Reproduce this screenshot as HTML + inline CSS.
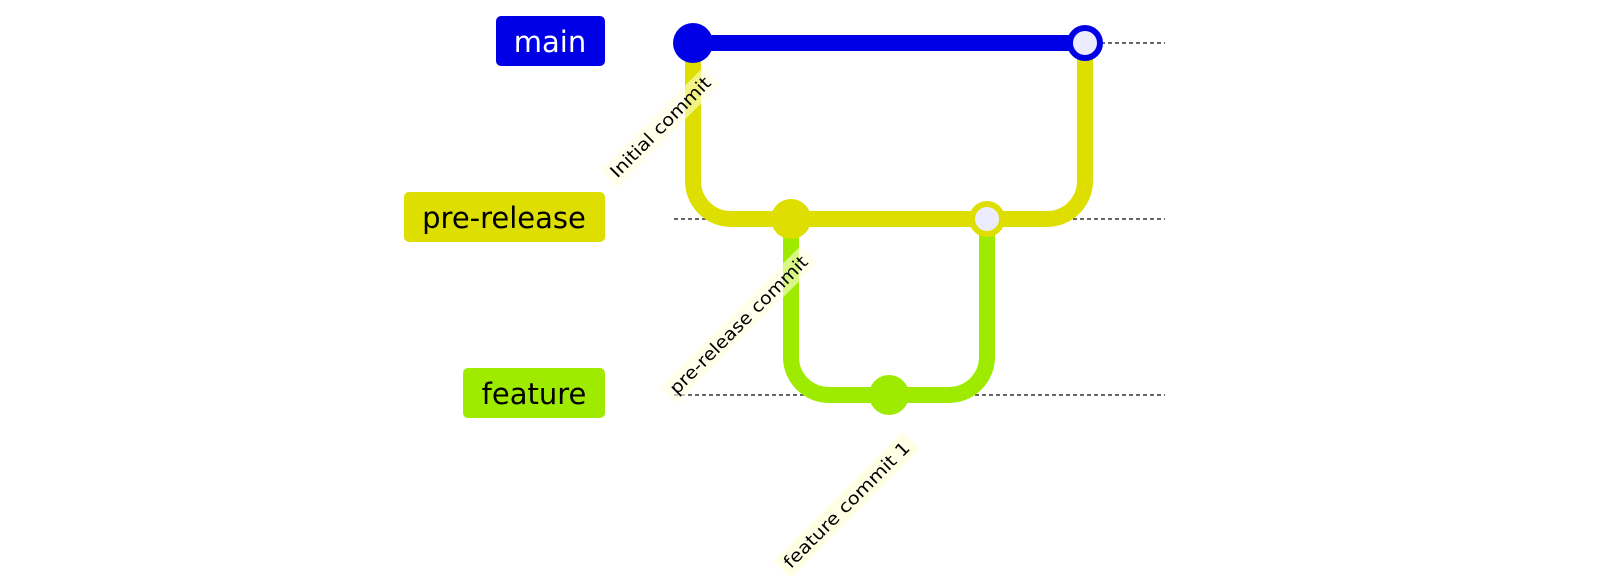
<!DOCTYPE html>
<html><head><meta charset="utf-8"><style>
html,body{margin:0;padding:0;background:#fff;width:1600px;height:584px;overflow:hidden}
svg{display:block;font-family:"DejaVu Sans","Liberation Sans",sans-serif}
</style></head><body>
<svg width="1600" height="584" viewBox="0 0 1600 584">
<g stroke="#333" stroke-width="1.5" stroke-dasharray="4,3">
<line x1="674" y1="43" x2="1165" y2="43"/>
<line x1="674" y1="219" x2="1165" y2="219"/>
<line x1="674" y1="395" x2="1165" y2="395"/>
</g>
<rect x="496" y="16" width="109" height="50" rx="5" fill="#0000e6"/>
<text x="550" y="52" font-size="29" fill="#fff" text-anchor="middle">main</text>
<rect x="404" y="192" width="201" height="50" rx="5" fill="#dede00"/>
<text x="504" y="228" font-size="29" fill="#000" text-anchor="middle">pre-release</text>
<rect x="463" y="368" width="142" height="50" rx="5" fill="#9eeb00"/>
<text x="534" y="404" font-size="29" fill="#000" text-anchor="middle">feature</text>

<path d="M693 43 V181 A38 38 0 0 0 731 219 H1047 A38 38 0 0 0 1085 181 V43" fill="none" stroke="#dede00" stroke-width="16"/>
<path d="M791 219 V357 A38 38 0 0 0 829 395 H949 A38 38 0 0 0 987 357 V219" fill="none" stroke="#9eeb00" stroke-width="16"/>
<line x1="693" y1="43" x2="1085" y2="43" stroke="#0000e6" stroke-width="16"/>

<circle cx="693" cy="43" r="20" fill="#0000e6"/>
<circle cx="1085" cy="43" r="15" fill="#ececfe" stroke="#0000e6" stroke-width="6"/>
<circle cx="791" cy="219" r="20" fill="#dede00"/>
<circle cx="987" cy="219" r="15" fill="#ececfe" stroke="#dede00" stroke-width="6"/>
<circle cx="889" cy="395" r="20" fill="#9eeb00"/>

<g font-size="17.5" fill="#000">
<g transform="translate(712,84) rotate(-45)">
<rect x="-140" y="-18" width="146" height="24" fill="#ffffde" opacity="0.6"/>
<text x="0" y="0" text-anchor="end" textLength="134" lengthAdjust="spacingAndGlyphs">Initial commit</text>
</g>
<g transform="translate(809,263) rotate(-45)">
<rect x="-193" y="-18" width="199" height="24" fill="#ffffde" opacity="0.6"/>
<text x="0" y="0" text-anchor="end" textLength="187" lengthAdjust="spacingAndGlyphs">pre-release commit</text>
</g>
<g transform="translate(911,449) rotate(-45)">
<rect x="-176" y="-18" width="182" height="24" fill="#ffffde" opacity="0.8"/>
<text x="0" y="0" text-anchor="end" textLength="170" lengthAdjust="spacingAndGlyphs">feature commit 1</text>
</g>
</g>
</svg>
</body></html>
